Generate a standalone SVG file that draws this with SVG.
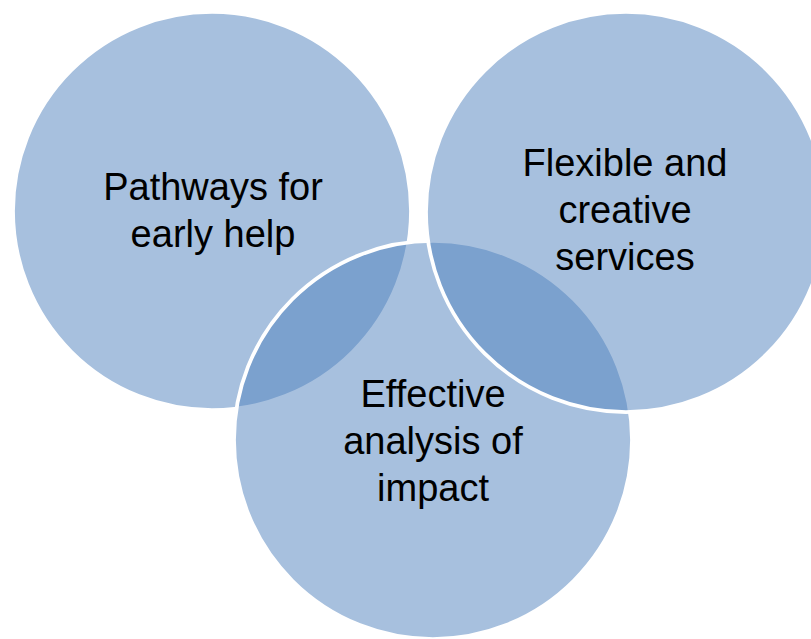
<svg xmlns="http://www.w3.org/2000/svg" width="811" height="639" viewBox="0 0 811 639">
  <style>
    .ring { fill: #4F81BD; fill-opacity: 0.5; stroke: #FFFFFF; stroke-width: 3.75; }
    .label { font-family: "Liberation Sans", Arial, sans-serif; font-size: 38px; fill: #000000; text-anchor: middle; }
  </style>
  <rect width="811" height="639" fill="#FFFFFF"/>

  <!-- drawn in stacking order: left, bottom, right -->
  <g id="node-pathways">
    <circle class="ring" cx="212" cy="211" r="199"/>
    <text class="label" x="213" y="200">Pathways for</text>
    <text class="label" x="213" y="247">early help</text>
  </g>

  <g id="node-analysis">
    <circle class="ring" cx="433" cy="440" r="199"/>
    <text class="label" x="433" y="407">Effective</text>
    <text class="label" x="433" y="454">analysis of</text>
    <text class="label" x="433" y="501">impact</text>
  </g>

  <g id="node-services">
    <circle class="ring" cx="626" cy="212" r="200"/>
    <text class="label" x="625" y="176">Flexible and</text>
    <text class="label" x="625" y="223">creative</text>
    <text class="label" x="625" y="270">services</text>
  </g>
</svg>
